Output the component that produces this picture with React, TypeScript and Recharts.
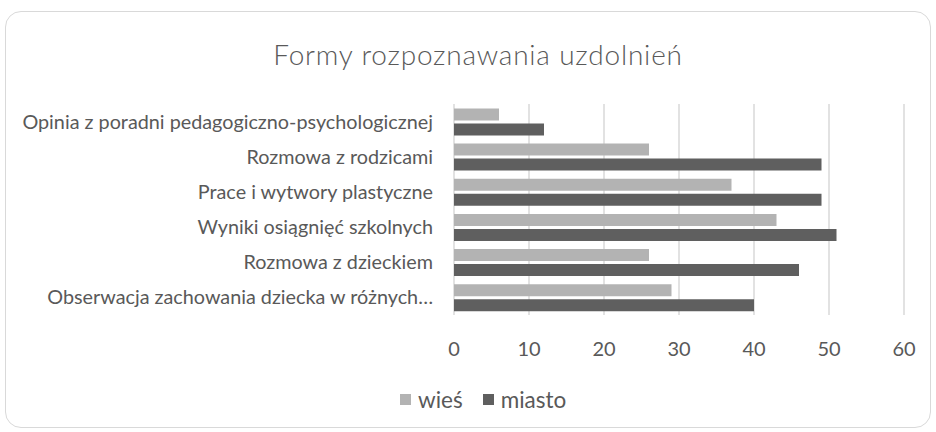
import { BarChart, Bar, XAxis, YAxis, CartesianGrid, Legend } from "recharts";

const categories = [
  "Opinia z poradni pedagogiczno-psychologicznej",
  "Rozmowa z rodzicami",
  "Prace i wytwory plastyczne",
  "Wyniki osiągnięć szkolnych",
  "Rozmowa z dzieckiem",
  "Obserwacja zachowania dziecka w różnych…",
];
const wies = [6, 26, 37, 43, 26, 29];
const miasto = [12, 49, 49, 51, 46, 40];
const xTicks = [0, 10, 20, 30, 40, 50, 60];
const seriesOrder = ["wieś", "miasto"];

const data = categories.map((name, i) => ({ name, wies: wies[i], miasto: miasto[i] }));

const FONT = "Lato, 'Open Sans', sans-serif";
const TEXT = "#595959";

function LegendBox(props: any) {
  const items = [...(props.payload || [])].sort(
    (a: any, b: any) => seriesOrder.indexOf(a.value) - seriesOrder.indexOf(b.value)
  );
  return (
    <div style={{ display: "flex", paddingTop: 21, paddingLeft: 400, fontFamily: FONT }}>
      {items.map((p: any) => (
        <div key={p.value} style={{ display: "flex", alignItems: "center", marginRight: 20 }}>
          <span style={{ width: 11, height: 11, background: p.color, marginRight: 7, display: "inline-block" }} />
          <span style={{ fontSize: 22.5, color: TEXT }}>{p.value}</span>
        </div>
      ))}
    </div>
  );
}

export default function App() {
  return (
    <div style={{ position: "relative", width: 936, height: 432, background: "#fff" }}>
      <style>{"body{margin:0}"}</style>
      <div
        style={{
          position: "absolute",
          left: 5,
          top: 11,
          width: 924,
          height: 415,
          border: "1px solid #d9d9d9",
          borderRadius: 16,
        }}
      />
      <div
        style={{
          position: "absolute",
          top: 37,
          left: 0,
          width: 956,
          textAlign: "center",
          fontFamily: FONT,
          fontSize: 28,
          fontWeight: 300,
          letterSpacing: 0.8,
          color: TEXT,
        }}
      >
        Formy rozpoznawania uzdolnień
      </div>
      <div style={{ position: "absolute", left: 0, top: 0 }}>
        <BarChart
          width={936}
          height={432}
          data={data}
          layout="vertical"
          margin={{ top: 104, right: 32, left: 0, bottom: 0 }}
          barCategoryGap={4.4}
          barGap={3}
        >
          <CartesianGrid horizontal={false} stroke="#d9d9d9" strokeWidth={1.5} />
          <XAxis
            type="number"
            domain={[0, 60]}
            ticks={xTicks}
            axisLine={false}
            tickLine={false}
            tickMargin={21}
            height={50}
            tick={{ fill: TEXT, fontSize: 20, fontFamily: FONT }}
          />
          <YAxis
            type="category"
            dataKey="name"
            width={454}
            axisLine={false}
            tickLine={false}
            tickMargin={15}
            interval={0}
            tick={{ fill: TEXT, fontSize: 19.8, fontFamily: FONT }}
          />
          <Legend verticalAlign="bottom" wrapperStyle={{ height: 67 }} content={<LegendBox />} />
          <Bar dataKey="wies" name="wieś" fill="#b3b3b3" isAnimationActive={false} />
          <Bar dataKey="miasto" name="miasto" fill="#5f5f5f" isAnimationActive={false} />
        </BarChart>
      </div>
    </div>
  );
}
